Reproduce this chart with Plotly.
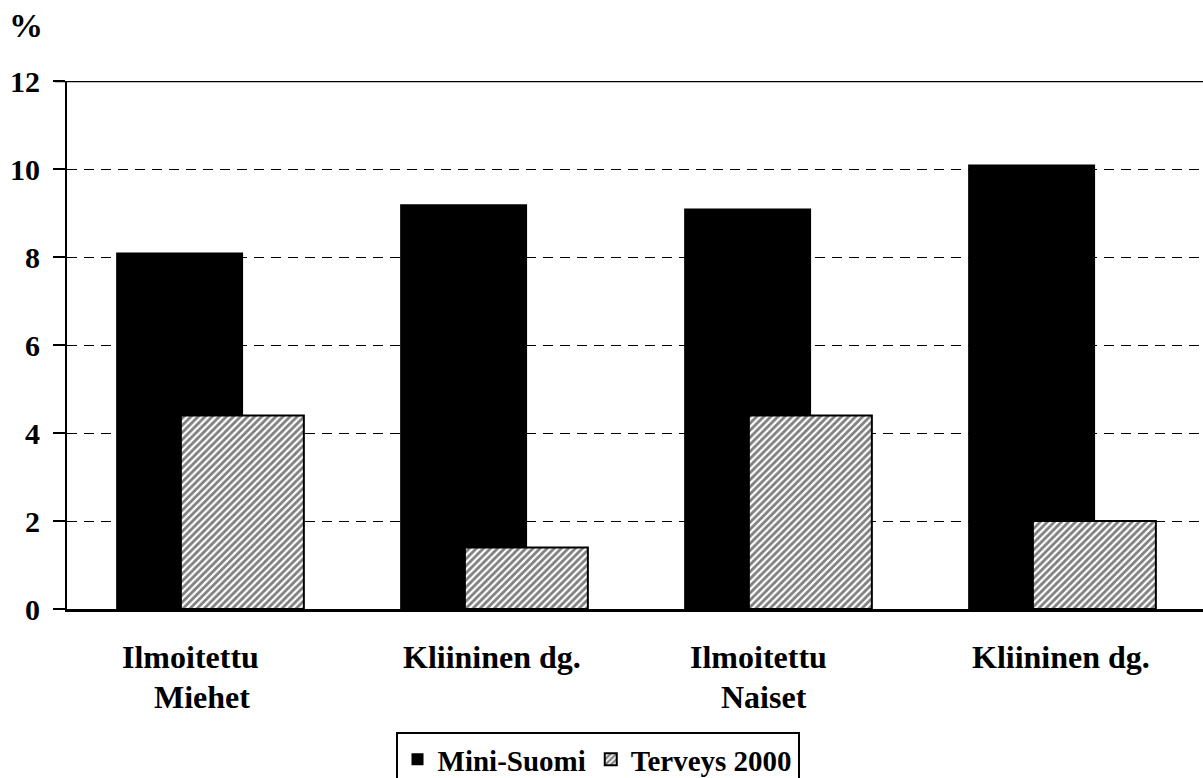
import plotly.graph_objects as go

categories = ["Ilmoitettu Miehet", "Kliininen dg. Miehet", "Ilmoitettu Naiset", "Kliininen dg. Naiset"]
label_line1 = ["Ilmoitettu", "Kliininen dg.", "Ilmoitettu", "Kliininen dg."]
label_line2 = ["Miehet", "", "Naiset", ""]
mini_suomi = [8.1, 9.2, 9.1, 10.1]
terveys_2000 = [4.4, 1.4, 4.4, 2.0]
y_ticks = [0, 2, 4, 6, 8, 10, 12]

# label horizontal nudges (pixels), styling only
shift1 = [-19, -1, -19, 0]
shift2 = [-7, 0, -13, 0]

FONT = "Liberation Serif"

fig = go.Figure()
fig.add_trace(go.Bar(
    x=categories, y=mini_suomi, name="Mini-Suomi",
    marker=dict(color="black", line=dict(width=0)),
    width=0.447, offset=-0.327,
))
fig.add_trace(go.Bar(
    x=categories, y=terveys_2000, name="Terveys 2000",
    marker=dict(color="white", line=dict(color="black", width=2),
                pattern=dict(shape="/", fgcolor="black", bgcolor="white", size=5, solidity=0.55)),
    width=0.433, offset=-0.099,
))

annotations = [dict(
    text="<b>%</b>", xref="paper", yref="paper", x=-0.053, y=1.0 + 56 / 528,
    xanchor="left", yanchor="middle", showarrow=False,
    font=dict(family=FONT, size=34, color="black"),
)]
for c, t1, t2, s1, s2 in zip(categories, label_line1, label_line2, shift1, shift2):
    annotations.append(dict(
        text=f"<b>{t1}</b>", x=c, xref="x", yref="paper", y=-48 / 528,
        xanchor="center", yanchor="middle", showarrow=False, xshift=s1,
        font=dict(family=FONT, size=32, color="black"),
    ))
    if t2:
        annotations.append(dict(
            text=f"<b>{t2}</b>", x=c, xref="x", yref="paper", y=-88 / 528,
            xanchor="center", yanchor="middle", showarrow=False, xshift=s2,
            font=dict(family=FONT, size=32, color="black"),
        ))

fig.update_layout(
    width=1203, height=778,
    margin=dict(l=67, r=0, t=81, b=169, autoexpand=False),
    paper_bgcolor="white", plot_bgcolor="white",
    barmode="overlay",
    font=dict(family=FONT, size=29, color="black"),
    showlegend=True,
    legend=dict(
        orientation="h", x=0.467, xanchor="center", y=-123 / 528, yanchor="top",
        bordercolor="black", borderwidth=2,
        font=dict(family=FONT, size=29, color="black", weight="bold"),
        tracegroupgap=0,
    ),
    annotations=annotations,
)

fig.update_yaxes(
    range=[0, 12], tickvals=y_ticks, ticktext=[f"<b>{v}</b>" for v in y_ticks],
    showgrid=True, gridcolor="black", griddash="10px,7px", gridwidth=1,
    showline=True, linecolor="black", linewidth=2,
    ticks="outside", ticklen=12, tickwidth=2, tickcolor="black",
    zeroline=False, automargin=False, ticklabelstandoff=7,
    tickfont=dict(family=FONT, size=30, color="black"),
)
fig.update_xaxes(
    showline=True, linecolor="black", linewidth=3,
    ticks="", showgrid=False, showticklabels=False, automargin=False,
)
fig.add_shape(type="line", xref="paper", yref="y", x0=-12 / 1136, x1=1, y0=12, y1=12,
              line=dict(color="black", width=2.5))

fig.write_html(
    "out.html",
    config={"displayModeBar": False},
    post_script="document.body.style.margin='0';document.body.style.overflow='hidden';",
)
